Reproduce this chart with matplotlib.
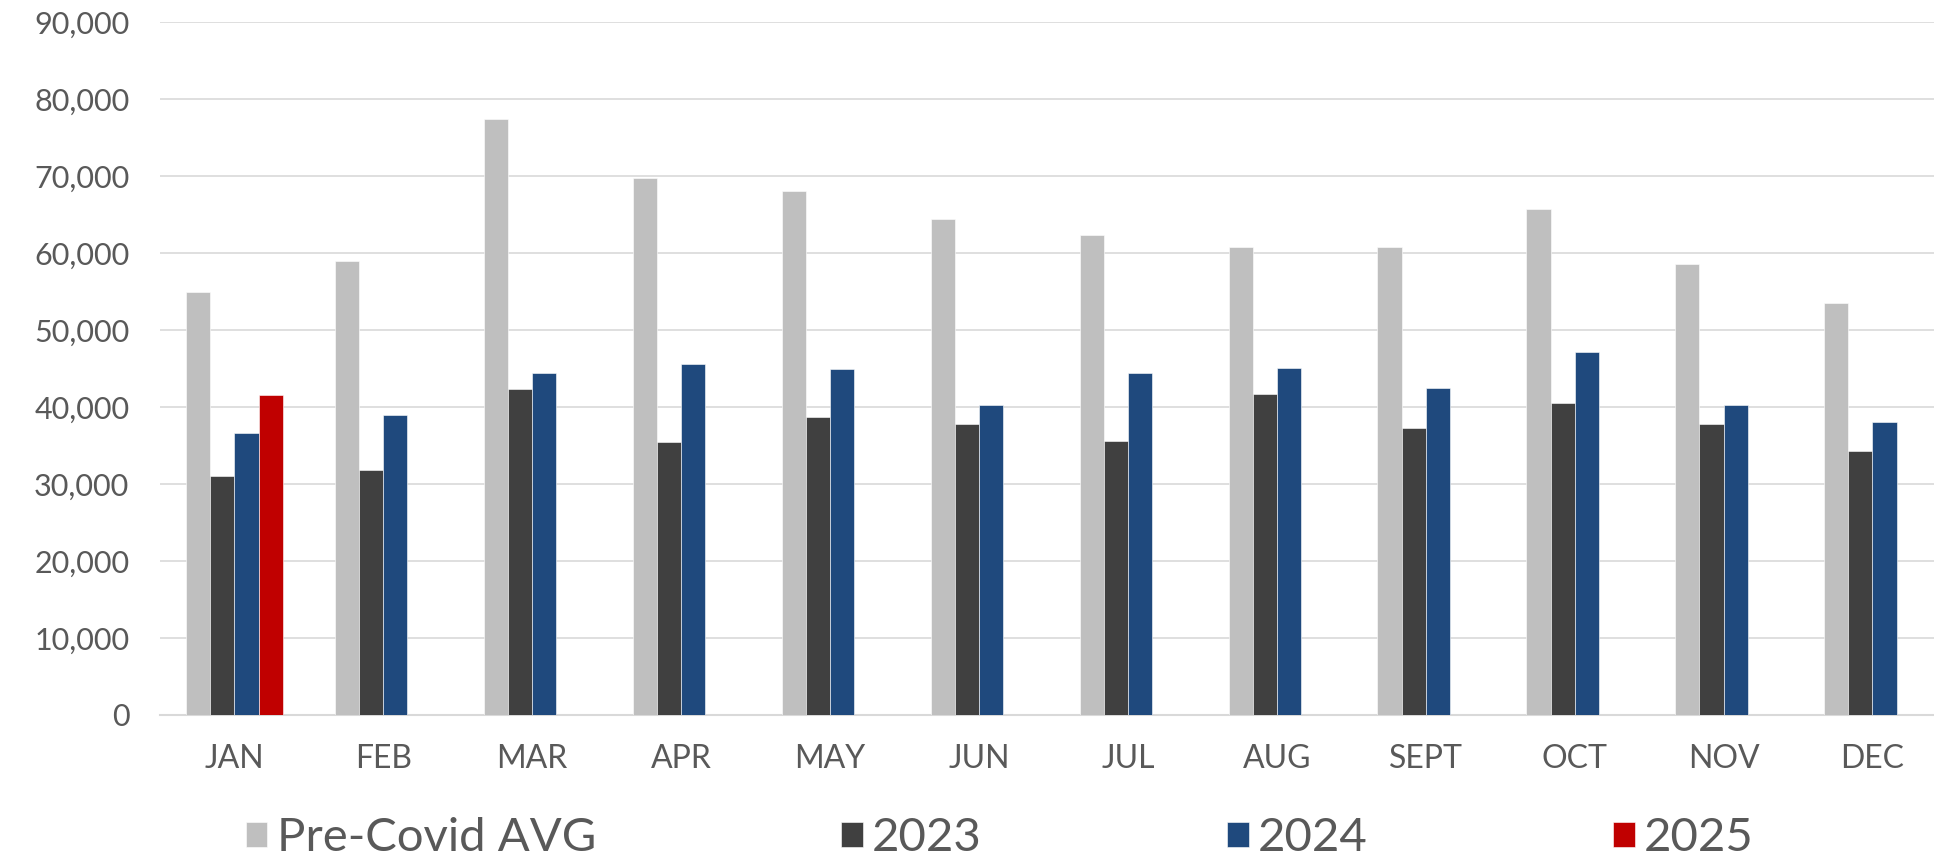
import numpy as np
import matplotlib
matplotlib.use("Agg")
import matplotlib.pyplot as plt
from matplotlib.ticker import FuncFormatter

# data
months = ["JAN", "FEB", "MAR", "APR", "MAY", "JUN",
          "JUL", "AUG", "SEPT", "OCT", "NOV", "DEC"]
pre_covid = [55000, 58900, 77400, 69750, 68000, 64450,
             62300, 60800, 60800, 65750, 58600, 53450]
y2023 = [31050, 31800, 42350, 35400, 38650, 37750,
         35650, 41750, 37250, 40550, 37850, 34350]
y2024 = [36600, 38900, 44400, 45550, 44950, 40200,
         44400, 45100, 42450, 47100, 40200, 38100]
y2025 = [41550]

series = [("Pre-Covid AVG", pre_covid, "#bfbfbf"),
          ("2023", y2023, "#404040"),
          ("2024", y2024, "#1f497d"),
          ("2025", y2025, "#c00000")]

plt.rcParams['font.family'] = ['Lato', 'DejaVu Sans']
text_col = "#595959"

fig = plt.figure(figsize=(19.34, 8.57), dpi=100)
ax = fig.add_axes([0.0827, 0.1657, 0.924, 0.8086])

x = np.arange(len(months))
w = 0.162
for i, (name, vals, col) in enumerate(series):
    pos = x[:len(vals)] + (i - 1.5) * w
    ax.bar(pos, vals, width=w, color=col, label=name,
           edgecolor="white", linewidth=0.4, zorder=3)

ax.set_xlim(-0.5, len(months) - 0.5)
ax.set_ylim(0, 90000)
ax.set_yticks(np.arange(0, 90001, 10000))
ax.yaxis.set_major_formatter(FuncFormatter(lambda v, p: f"{int(v):,}"))
ax.set_xticks(x)
ax.set_xticklabels(months)

ax.grid(axis="y", color="#d9d9d9", linewidth=1.2, zorder=0)
for s in ["top", "right", "left"]:
    ax.spines[s].set_visible(False)
ax.spines["bottom"].set_color("#d9d9d9")
ax.spines["bottom"].set_linewidth(1.5)
ax.tick_params(axis="both", length=0, labelsize=22, labelcolor=text_col)
ax.tick_params(axis="x", labelsize=23, pad=21)
ax.tick_params(axis="y", pad=22)

leg = fig.legend(loc="center", bbox_to_anchor=(0.517, 0.022), ncol=4,
                 frameon=False, fontsize=34, handlelength=0.45,
                 handleheight=0.45, handletextpad=0.2, columnspacing=5.2,
                 borderpad=0, borderaxespad=0)
for t in leg.get_texts():
    t.set_color(text_col)

plt.savefig("out.png", dpi=100)
